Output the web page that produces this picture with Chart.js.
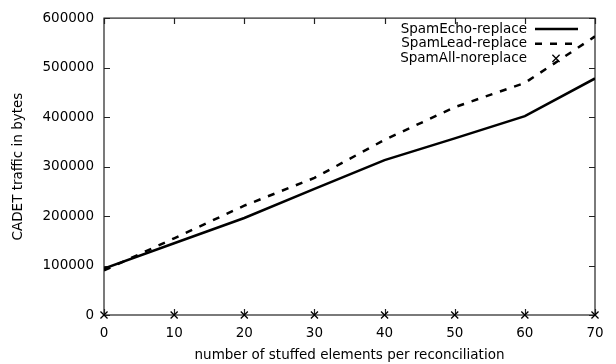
<!DOCTYPE html>
<html>
<head>
<meta charset="utf-8">
<script src="https://cdn.jsdelivr.net/npm/chart.js@4/dist/chart.umd.min.js"></script>
<style>
  html, body { margin: 0; padding: 0; background: #fff; }
  #wrap { width: 616px; height: 364px; }
</style>
</head>
<body>
<div id="wrap"><canvas id="trafficChart" width="616" height="364"></canvas></div>
<script>
const elements = [0, 10, 20, 30, 40, 50, 60, 70];
const spamEcho = [94000, 145000, 196000, 255000, 313000, 357000, 402000, 478000];
const spamLead = [90000, 155000, 221000, 277000, 354000, 420000, 469000, 563000];
const spamAll = [0, 0, 0, 0, 0, 0, 0, 0];
const seriesNames = ["SpamEcho-replace", "SpamLead-replace", "SpamAll-noreplace"];
const xTicks = [0, 10, 20, 30, 40, 50, 60, 70];
const yTicks = [0, 100000, 200000, 300000, 400000, 500000, 600000];

const FONT = "'DejaVu Sans', sans-serif";
const FSIZE = 13.5;
const pts = (ys) => elements.map((x, i) => ({ x: x, y: ys[i] }));

// box around the plot with inward ticks on all four sides
const frame = {
  id: "frame",
  beforeDatasetsDraw(chart) {
    const { ctx, chartArea: a, scales } = chart;
    ctx.save();
    ctx.strokeStyle = "#222";
    ctx.lineWidth = 1.2;
    ctx.strokeRect(a.left, a.top, a.right - a.left, a.bottom - a.top);
    ctx.beginPath();
    const len = 6;
    xTicks.forEach(v => {
      const px = Math.round(scales.x.getPixelForValue(v)) + 0.5;
      ctx.moveTo(px, a.bottom); ctx.lineTo(px, a.bottom - len);
      ctx.moveTo(px, a.top); ctx.lineTo(px, a.top + len);
    });
    yTicks.forEach(v => {
      const py = Math.round(scales.y.getPixelForValue(v)) + 0.5;
      ctx.moveTo(a.left, py); ctx.lineTo(a.left + len, py);
      ctx.moveTo(a.right, py); ctx.lineTo(a.right - len, py);
    });
    ctx.stroke();
    ctx.restore();
  }
};

// key in the top-right corner: text first, then the line/point sample
const key = {
  id: "key",
  afterDatasetsDraw(chart) {
    const { ctx } = chart;
    ctx.save();
    ctx.font = FSIZE + "px " + FONT;
    ctx.textAlign = "right";
    ctx.textBaseline = "middle";
    chart.data.datasets.forEach((ds, i) => {
      const y = 29 + i * 14.7;
      ctx.fillStyle = "#000";
      ctx.fillText(ds.label, 527, y);
      ctx.strokeStyle = "#000";
      if (ds.showLine === false) {
        const cx = 556, r = 3.6;
        ctx.lineWidth = 1.3;
        ctx.setLineDash([]);
        ctx.beginPath();
        ctx.moveTo(cx - r, y - r); ctx.lineTo(cx + r, y + r);
        ctx.moveTo(cx - r, y + r); ctx.lineTo(cx + r, y - r);
        ctx.stroke();
      } else {
        ctx.lineWidth = ds.borderWidth;
        ctx.setLineDash(ds.borderDash || []);
        ctx.beginPath();
        ctx.moveTo(535, y); ctx.lineTo(578, y);
        ctx.stroke();
      }
    });
    ctx.restore();
  }
};

new Chart(document.getElementById("trafficChart"), {
  type: "line",
  data: {
    datasets: [
      {
        label: seriesNames[0],
        data: pts(spamEcho),
        borderColor: "#000",
        borderWidth: 2.5,
        pointRadius: 0,
        tension: 0
      },
      {
        label: seriesNames[1],
        data: pts(spamLead),
        borderColor: "#000",
        borderWidth: 2.5,
        borderDash: [7, 8],
        pointRadius: 0,
        tension: 0
      },
      {
        label: seriesNames[2],
        data: pts(spamAll),
        showLine: false,
        pointStyle: "crossRot",
        pointRadius: 5,
        borderColor: "#000",
        borderWidth: 1.3,
        clip: false
      }
    ]
  },
  options: {
    responsive: false,
    animation: false,
    layout: { padding: { top: 14, right: 21, left: 0, bottom: 0 } },
    plugins: {
      legend: { display: false },
      tooltip: { enabled: false }
    },
    scales: {
      x: {
        type: "linear",
        min: 0,
        max: 70,
        afterBuildTicks: s => { s.ticks = xTicks.map(v => ({ value: v })); },
        afterFit: s => { s.height = 49; },
        grid: { display: false, drawTicks: false },
        border: { display: false },
        ticks: { color: "#000", font: { family: FONT, size: FSIZE }, padding: 10, maxRotation: 0 },
        title: {
          display: true,
          text: "number of stuffed elements per reconciliation",
          color: "#000",
          font: { family: FONT, size: FSIZE },
          padding: { top: 0, bottom: 0 }
        }
      },
      y: {
        type: "linear",
        min: 0,
        max: 600000,
        afterBuildTicks: s => { s.ticks = yTicks.map(v => ({ value: v })); },
        afterFit: s => { s.width = 104; },
        grid: { display: false, drawTicks: false },
        border: { display: false },
        ticks: { color: "#000", font: { family: FONT, size: FSIZE }, padding: 10, callback: v => String(v) },
        title: {
          display: true,
          text: "CADET traffic in bytes",
          color: "#000",
          font: { family: FONT, size: FSIZE },
          padding: { top: 10, bottom: 0 }
        }
      }
    }
  },
  plugins: [frame, key]
});
</script>
</body>
</html>
